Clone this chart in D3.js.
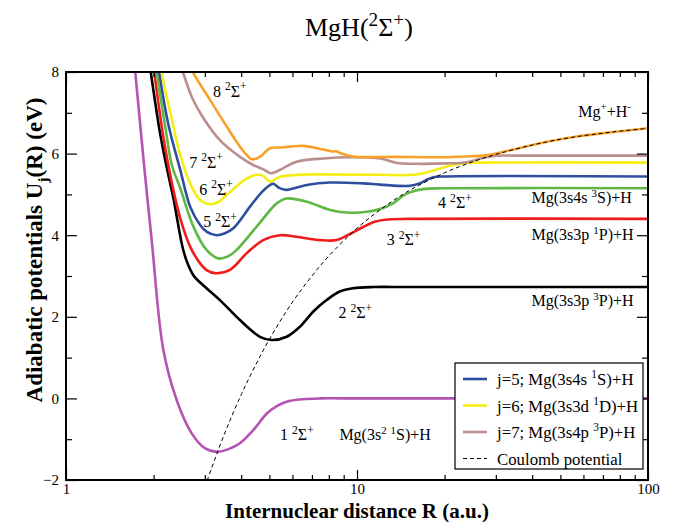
<!DOCTYPE html>
<html>
<head>
<meta charset="utf-8">
<script src="https://cdn.jsdelivr.net/npm/d3@7"></script>
<style>
  body { margin: 0; background: #fff; }
  svg text { font-family: "Liberation Serif", "Times New Roman", serif; white-space: pre; }
</style>
</head>
<body>
<div id="chart"></div>
<script>
// Potential curves, [R (a.u.), U (eV)]
const state1 = [[1.70,8.6],[1.73,8.0],[1.85,5.8],[1.97,3.88],[2.16,1.19],[2.40,-0.04],[2.70,-0.85],[3.0,-1.22],[3.30,-1.31],[3.6,-1.25],[3.96,-1.10],[4.4,-0.78],[4.90,-0.37],[5.3,-0.19],[5.73,-0.08],[6.5,-0.02],[7.5,0.0],[10,0.0],[100,0.0]];
const state2 = [[1.91,8.5],[1.955,8.0],[2.10,6.54],[2.21,5.72],[2.34,4.9],[2.52,3.68],[2.62,3.3],[2.75,3.0],[2.89,2.84],[3.38,2.41],[3.96,1.92],[4.64,1.51],[5.09,1.43],[5.73,1.51],[6.37,1.76],[7.08,2.13],[7.86,2.41],[8.72,2.62],[9.68,2.70],[11.4,2.73],[15,2.73],[100,2.73]];
const state3 = [[1.96,8.6],[2.01,8.0],[2.15,6.5],[2.3,5.35],[2.47,4.41],[2.67,3.72],[2.89,3.31],[3.05,3.14],[3.25,3.07],[3.66,3.15],[4.18,3.56],[4.76,3.88],[5.44,4.0],[6.2,3.96],[7.46,3.88],[8.5,3.88],[9.46,4.03],[10.5,4.2],[11.5,4.33],[12.5,4.38],[15,4.4],[100,4.4]];
const state4 = [[2.0,8.6],[2.05,8.0],[2.2,6.6],[2.31,5.72],[2.47,5.15],[2.74,4.21],[3.04,3.64],[3.34,3.43],[3.6,3.48],[3.86,3.64],[4.52,4.21],[5.30,4.78],[5.73,4.90],[6.72,4.82],[8.08,4.62],[9.46,4.55],[11.0,4.58],[12.0,4.64],[13.3,4.78],[14.3,4.95],[15.2,5.05],[16.9,5.13],[20,5.15],[100,5.15]];
const state5 = [[2.04,8.6],[2.09,8.0],[2.25,6.7],[2.47,5.6],[2.67,4.70],[2.89,4.25],[3.05,4.08],[3.29,4.0],[3.5,4.04],[3.76,4.17],[4.29,4.70],[4.7,5.05],[5.02,5.23],[5.16,5.26],[5.4,5.16],[5.73,5.11],[6.2,5.17],[6.72,5.23],[8.08,5.29],[10.5,5.27],[12,5.24],[15.2,5.21],[16.4,5.27],[17.5,5.37],[18.3,5.42],[20,5.44],[100,5.44]];
const state6 = [[2.08,8.6],[2.13,8.0],[2.30,6.9],[2.47,5.96],[2.67,5.27],[2.89,4.86],[3.13,4.76],[3.35,4.82],[3.57,4.99],[4.18,5.39],[4.5,5.48],[4.75,5.46],[5.02,5.31],[5.2,5.36],[5.44,5.43],[6.0,5.47],[7.08,5.49],[12,5.48],[15.6,5.48],[17.8,5.56],[19.5,5.65],[21.4,5.72],[23.8,5.77],[26,5.78],[100,5.78]];
const state7 = [[2.38,8.6],[2.53,7.97],[2.72,7.35],[2.96,6.88],[3.38,6.33],[3.96,5.92],[4.40,5.72],[4.75,5.62],[5.05,5.52],[5.3,5.56],[5.57,5.64],[6.2,5.80],[7.66,5.88],[9.46,5.91],[12,5.88],[13.7,5.77],[16,5.75],[20.3,5.76],[23.8,5.79],[27.2,5.90],[30.1,5.95],[35,5.95],[100,5.95]];
const state8 = [[2.5,8.6],[2.74,7.97],[3.13,7.31],[3.57,6.66],[3.96,6.17],[4.2,5.95],[4.35,5.86],[4.64,5.92],[5.02,6.13],[5.44,6.15],[5.88,6.17],[6.53,6.19],[7.66,6.10],[8.29,6.05],[8.5,6.06],[8.7,6.02],[9.68,5.93],[13.7,5.92],[19.2,5.91],[23.8,5.93],[27,5.95],[29.5,5.99],[34.4,6.10],[44.9,6.29],[58.4,6.43],[76,6.53],[100,6.62]];
const coulomb = [[2.9,-2.5],[3.05,-2.03],[3.5,-0.88],[4,0.09],[4.5,0.84],[5,1.45],[6,2.36],[7,3.00],[8,3.49],[10,4.17],[12,4.62],[15,5.08],[20,5.53],[25,5.80],[30,5.98],[40,6.21],[50,6.35],[60,6.44],[70,6.50],[80,6.55],[100,6.62]];

const stateSeries = [state1, state2, state3, state4, state5, state6, state7, state8];
const stateColors = ["#b553b3", "#000000", "#f01c1c", "#5fb843", "#2e4f9f", "#f5ee14", "#bc8f8f", "#f7a128"];

// State labels and where they sit (R, U)
const stateLabels = ["1 ^{2}Σ^{+}", "2 ^{2}Σ^{+}", "3 ^{2}Σ^{+}", "4 ^{2}Σ^{+}", "5 ^{2}Σ^{+}", "6 ^{2}Σ^{+}", "7 ^{2}Σ^{+}", "8 ^{2}Σ^{+}"];
const stateLabelAt = [[5.44,-1.02],[8.63,1.96],[12.65,3.76],[19.0,4.66],[2.96,4.20],[2.87,4.99],[2.65,5.65],[3.20,7.39]];

// Dissociation limits
const limitLabels = ["Mg(3s^{2} ^{1}S)+H", "Mg(3s3p ^{3}P)+H", "Mg(3s3p ^{1}P)+H", "Mg(3s4s ^{3}S)+H", "Mg^{+}+H^{-}"];
const limitLabelAt = [[8.7,-1.02],[39.8,2.26],[39.8,3.88],[39.8,4.78],[57.6,6.90]];

// Legend
const legendNames = ["j=5; Mg(3s4s ^{1}S)+H", "j=6; Mg(3s3d ^{1}D)+H", "j=7; Mg(3s4p ^{3}P)+H", "Coulomb potential"];
const legendSeries = [4, 5, 6, -1];

const xTickValues = [1, 10, 100];
const xMinorTicks = [2,3,4,5,6,7,8,9,20,30,40,50,60,70,80,90];
const yTickValues = [-2, 0, 2, 4, 6, 8];
const yMinorTicks = [-1, 1, 3, 5, 7];

const width = 673, height = 522;
const pLeft = 66, pRight = 648, pTop = 72, pBottom = 480;

const svg = d3.select("#chart").append("svg")
    .attr("width", width)
    .attr("height", height);

const x = d3.scaleLog().domain([1, 100]).range([pLeft, pRight]);
const y = d3.scaleLinear().domain([-2, 8]).range([pBottom, pTop]);

// turn "a^{b}c_{d}" into tspans
function rich(g, px, py, str, size, supScale = 0.68) {
  const t = g.append("text").attr("x", px).attr("y", py).attr("font-size", size);
  const re = /([\^_])\{([^}]*)\}|([^\^_]+)/g;
  let m, shift = 0;
  while ((m = re.exec(str)) !== null) {
    const kind = m[1] || "n";
    const s = m[1] ? m[2] : m[3];
    const target = kind === "^" ? -0.4 * size : kind === "_" ? 0.28 * size : 0;
    t.append("tspan")
      .attr("dy", target - shift)
      .attr("font-size", kind === "n" ? size : size * supScale)
      .text(s);
    shift = target;
  }
  return t;
}

// Title
rich(svg, 305, 36, "MgH(^{2}Σ^{+})", 26, 0.74);

svg.append("clipPath").attr("id", "plot")
  .append("rect").attr("x", pLeft).attr("y", pTop).attr("width", pRight - pLeft).attr("height", pBottom - pTop);

const line = d3.line()
    .x(d => x(d[0]))
    .y(d => y(d[1]))
    .curve(d3.curveCatmullRom.alpha(0.5));

const curves = svg.append("g").attr("clip-path", "url(#plot)");
stateSeries.forEach((s, i) => {
  curves.append("path")
    .attr("d", line(s))
    .attr("fill", "none")
    .attr("stroke", stateColors[i])
    .attr("stroke-width", 2.6);
});
curves.append("path")
  .attr("d", line(coulomb))
  .attr("fill", "none")
  .attr("stroke", "#000")
  .attr("stroke-width", 1)
  .attr("stroke-dasharray", "4,3");

// Axes, ticks pointing inward on all four sides
function axisGroup(axis, tr) {
  return svg.append("g").attr("transform", tr).call(axis)
    .call(g => g.select(".domain").remove())
    .call(g => g.selectAll("line").attr("stroke", "#000").attr("stroke-width", 1.2));
}
const fmt = d3.format("d");
axisGroup(d3.axisBottom(x).tickValues(xTickValues).tickFormat(fmt).tickSize(-10).tickPadding(3), `translate(0,${pBottom})`)
  .selectAll("text").attr("font-size", 15).attr("font-family", "Liberation Serif");
axisGroup(d3.axisBottom(x).tickValues(xMinorTicks).tickFormat("").tickSize(-5), `translate(0,${pBottom})`);
axisGroup(d3.axisTop(x).tickValues(xTickValues).tickFormat("").tickSize(-10), `translate(0,${pTop})`);
axisGroup(d3.axisTop(x).tickValues(xMinorTicks).tickFormat("").tickSize(-5), `translate(0,${pTop})`);
axisGroup(d3.axisLeft(y).tickValues(yTickValues).tickFormat(fmt).tickSize(-11).tickPadding(7), `translate(${pLeft},0)`)
  .selectAll("text").attr("font-size", 15).attr("font-family", "Liberation Serif");
axisGroup(d3.axisLeft(y).tickValues(yMinorTicks).tickFormat("").tickSize(-6), `translate(${pLeft},0)`);
axisGroup(d3.axisRight(y).tickValues(yTickValues).tickFormat("").tickSize(-11), `translate(${pRight},0)`);
axisGroup(d3.axisRight(y).tickValues(yMinorTicks).tickFormat("").tickSize(-6), `translate(${pRight},0)`);

svg.append("rect")
  .attr("x", pLeft).attr("y", pTop)
  .attr("width", pRight - pLeft).attr("height", pBottom - pTop)
  .attr("fill", "none").attr("stroke", "#000").attr("stroke-width", 2);

// Axis titles
rich(svg, 0, 0, "Internuclear distance R (a.u.)", 21)
  .attr("x", (pLeft + pRight) / 2).attr("y", 518)
  .attr("text-anchor", "middle").attr("font-weight", "bold");
rich(svg, 0, 0, "Adiabatic potentials U_{j}(R) (eV)", 23)
  .attr("text-anchor", "middle").attr("font-weight", "bold")
  .attr("transform", "translate(42,250) rotate(-90)");

// Curve annotations
const notes = svg.append("g");
stateLabels.forEach((s, i) => rich(notes, x(stateLabelAt[i][0]), y(stateLabelAt[i][1]), s, 16, 0.72));
limitLabels.forEach((s, i) => rich(notes, x(limitLabelAt[i][0]), y(limitLabelAt[i][1]), s, 16));

// Legend
const lg = svg.append("g");
lg.append("rect")
  .attr("x", 455).attr("y", 363).attr("width", 188).attr("height", 106)
  .attr("fill", "#fff").attr("stroke", "#000").attr("stroke-width", 1.2);
legendNames.forEach((name, i) => {
  const ly = 379 + i * 26.5;
  const k = legendSeries[i];
  lg.append("line")
    .attr("x1", 463).attr("x2", 487).attr("y1", ly).attr("y2", ly)
    .attr("stroke", k >= 0 ? stateColors[k] : "#000")
    .attr("stroke-width", k >= 0 ? 2.6 : 1)
    .attr("stroke-dasharray", k >= 0 ? null : "4,3");
  rich(lg, 497, ly + 6, name, 16.8);
});
</script>
</body>
</html>
